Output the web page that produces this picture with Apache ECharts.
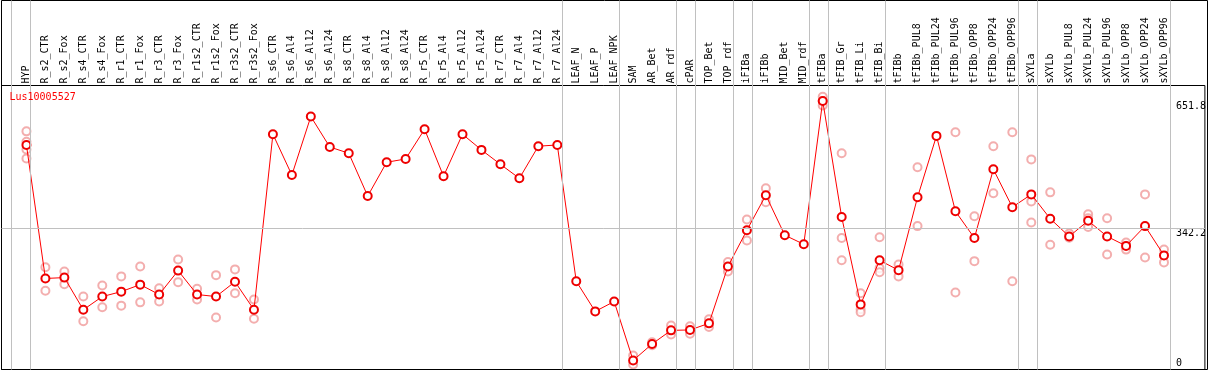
<!DOCTYPE html>
<html><head><meta charset="utf-8">
<script src="https://cdn.jsdelivr.net/npm/echarts@6/dist/echarts.min.js"></script>
<style>html,body{margin:0;padding:0;background:#fff}#c{width:1209px;height:370px}</style>
</head><body><div id="c"></div>
<script>
const chartTitle = 'Lus10005527';
const categories = ['HYP','R_s2_CTR','R_s2_Fox','R_s4_CTR','R_s4_Fox','R_r1_CTR','R_r1_Fox','R_r3_CTR','R_r3_Fox','R_r1s2_CTR','R_r1s2_Fox','R_r3s2_CTR','R_r3s2_Fox','R_s6_CTR','R_s6_Al4','R_s6_Al12','R_s6_Al24','R_s8_CTR','R_s8_Al4','R_s8_Al12','R_s8_Al24','R_r5_CTR','R_r5_Al4','R_r5_Al12','R_r5_Al24','R_r7_CTR','R_r7_Al4','R_r7_Al12','R_r7_Al24','LEAF_N','LEAF_P','LEAF_NPK','SAM','AR_Bet','AR_rdf','cPAR','TOP_Bet','TOP_rdf','iFIBa','iFIBb','MID_Bet','MID_rdf','tFIBa','tFIB_Gr','tFIB_Li','tFIB_Bi','tFIBb','tFIBb_PUL8','tFIBb_PUL24','tFIBb_PUL96','tFIBb_OPP8','tFIBb_OPP24','tFIBb_OPP96','sXYLa','sXYLb','sXYLb_PUL8','sXYLb_PUL24','sXYLb_PUL96','sXYLb_OPP8','sXYLb_OPP24','sXYLb_OPP96'];
const means = [544.7,221,223,145,177,189,206,182,240,182,177,213,145,571,472,614,540,525,421,503,511,583,469,571,533,498,464,542,545,214,141,165,22,62,95,96,112,250,338,423,326,304,651.8,370,158,265,241,418,567,384,319,486,394,425,366,323,361,323,300,348,277];
const replicates = [
  [578,553,534,512],[248,191],[238,207],[177,117],[204,151],[226,155],[250,163],[197,165],[267,212],[196,170],[229,126],[243,185],[170,123],
  [],[],[],[],[],[],[],[],[],[],[],[],[],[],[],[],
  [],[],[],
  [34,12],[66,59],[107,85],[105,87],[122,103],[261,238],[364,313],[440,406],[],[],
  [662,652,641],[525,319,265],[185,146,139],[321,246,236],[255,226],[491,348],[],[576,187],[372,263],[542,428],[576,214],
  [510,408,357],[430,303],[330,320],[377,367,346],[367,279],[308,291],[425,272],[291,260]
];
const groupEnds = [-1,0,28,31,34,35,37,38,41,42,45,52,53,60];
const yTopLabels = [342.2, 651.8];
const yBottomLabels = [0];
const hGridValues = [342.2];

// layout
const W = 1209, H = 370;
const gL = 1.5, gR = 1.5, plotTop = 85.5, gB = 0.5;
const firstX = 26.5, step = 19;
const xMin = (gL - firstX) / step;
const xMax = (W - gR - firstX) / step;
const pxPerUnit = 0.412;
const yMax = (H - gB - plotTop) / pxPerUnit;
const gridOff = 4 / step;

const font = 'DejaVu Sans Mono';

const meanData = means.map((v, i) => [i, v]);
const repData = [];
replicates.forEach((arr, i) => arr.forEach(v => repData.push([i, v])));

const chart = echarts.init(document.getElementById('c'), null, {renderer: 'canvas'});
const yLabelCommon = {inside: true, align: 'left', margin: 29, fontFamily: font, fontSize: 10, color: '#000'};
chart.setOption({
  animation: false,
  backgroundColor: '#fff',
  title: {text: chartTitle, left: 9.5, top: 92, padding: 0,
    textStyle: {color: '#ff0000', fontFamily: font, fontSize: 10, fontWeight: 'normal'}},
  grid: [
    {left: gL, right: gR, top: 0.5, bottom: gB, show: true, borderColor: '#000', borderWidth: 1, backgroundColor: 'transparent', z: 5},
    {left: gL, right: gR, top: plotTop, bottom: gB, show: true, borderColor: '#000', borderWidth: 1, backgroundColor: 'transparent', z: 5}
  ],
  xAxis: [
    {gridIndex: 0, type: 'value', min: xMin, max: xMax, show: false},
    {gridIndex: 1, type: 'value', min: xMin, max: xMax, position: 'top',
      axisLine: {show: false}, axisTick: {show: false}, splitLine: {show: false},
      axisLabel: {customValues: categories.map((_, i) => i), formatter: v => categories[Math.round(v)] || '',
        rotate: 90, margin: 2, fontFamily: font, fontSize: 10, color: '#000', hideOverlap: false}}
  ],
  yAxis: [
    {gridIndex: 0, type: 'value', min: 0, max: 1, show: false},
    {gridIndex: 1, type: 'value', min: 0, max: yMax, position: 'right',
      axisLine: {show: false}, axisTick: {show: false}, splitLine: {show: false},
      axisLabel: Object.assign({customValues: yTopLabels, verticalAlign: 'top', formatter: v => String(v)}, yLabelCommon)},
    {gridIndex: 1, type: 'value', min: 0, max: yMax, position: 'right',
      axisLine: {show: false}, axisTick: {show: false}, splitLine: {show: false},
      axisLabel: Object.assign({customValues: yBottomLabels, verticalAlign: 'bottom', padding: [0,0,1,0], formatter: v => String(v)}, yLabelCommon)}
  ],
  series: [
    {type: 'line', xAxisIndex: 0, yAxisIndex: 0, data: [], z: 1, silent: true,
      markLine: {silent: true, symbol: ['none', 'none'], label: {show: false}, animation: false,
        lineStyle: {color: '#c0c0c0', type: 'solid', width: 1},
        data: groupEnds.map(g => ({xAxis: g + gridOff}))}},
    {type: 'line', xAxisIndex: 1, yAxisIndex: 1, data: [], z: 1, silent: true,
      markLine: {silent: true, symbol: ['none', 'none'], label: {show: false}, animation: false,
        lineStyle: {color: '#c0c0c0', type: 'solid', width: 1},
        data: hGridValues.map(v => ({yAxis: v}))}},
    {type: 'scatter', xAxisIndex: 1, yAxisIndex: 1, data: repData, z: 2,
      symbol: 'emptyCircle', symbolSize: 8, itemStyle: {color: '#f09a9a', borderColor: '#f09a9a', borderWidth: 1.2}},
    {type: 'line', xAxisIndex: 1, yAxisIndex: 1, data: meanData, z: 3,
      symbol: 'emptyCircle', symbolSize: 8, showAllSymbol: true,
      lineStyle: {color: '#ff0000', width: 1}, itemStyle: {color: '#ee0000', borderColor: '#ee0000', borderWidth: 1.6}}
  ]
});
</script></body></html>
